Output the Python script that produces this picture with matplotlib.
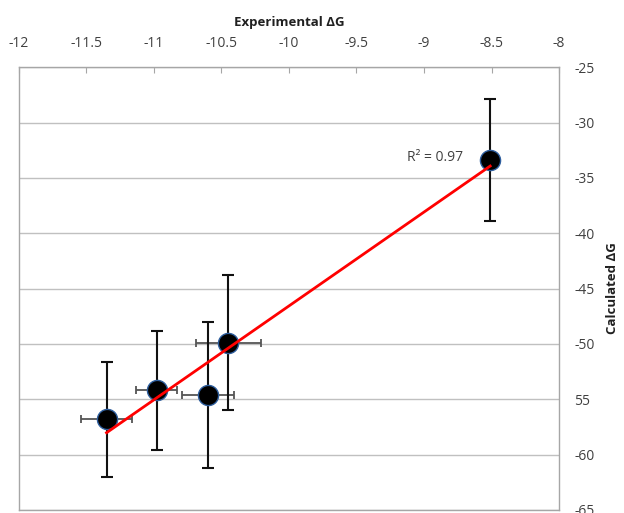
import matplotlib.pyplot as plt
import numpy as np

# data
exp_dg = [-11.35, -10.98, -10.60, -10.45, -8.51]
calc_dg = [-56.8, -54.2, -54.6, -49.9, -33.4]
exp_err = [0.19, 0.15, 0.19, 0.24, 0.0]
calc_err = [5.2, 5.4, 6.6, 6.1, 5.5]

x_ticks = [-12, -11.5, -11, -10.5, -10, -9.5, -9, -8.5, -8]
x_tick_labels = ['-12', '-11.5', '-11', '-10.5', '-10', '-9.5', '-9', '-8.5', '-8']
y_ticks = [-25, -30, -35, -40, -45, -50, -55, -60, -65]
y_tick_labels = ['-25', '-30', '-35', '-40', '-45', '-50', '55', '-60', '-65']
r2_label = 'R² = 0.97'

plt.rcParams['font.family'] = ['Open Sans', 'DejaVu Sans']

fig = plt.figure(figsize=(6.24, 5.13), dpi=100)
ax = fig.add_axes([0.030, 0.006, 0.866, 0.863])

# grid and frame
ax.set_xlim(-12, -8)
ax.set_ylim(-65, -25)
ax.yaxis.grid(True, color='#c0c0c0', linewidth=1)
ax.set_axisbelow(True)
for s in ax.spines.values():
    s.set_color('#a6a6a6')
    s.set_linewidth(1)

ax.xaxis.tick_top()
ax.xaxis.set_label_position('top')
ax.yaxis.tick_right()
ax.yaxis.set_label_position('right')
ax.set_xticks(x_ticks)
ax.set_xticklabels(x_tick_labels)
ax.set_yticks(y_ticks)
ax.set_yticklabels(y_tick_labels)
ax.tick_params(axis='x', direction='in', length=4, color='#a6a6a6', pad=12,
               labelsize=10, labelcolor='#404040')
ax.tick_params(axis='y', length=0, pad=11, labelsize=10, labelcolor='#404040')

ax.set_xlabel('Experimental ΔG', fontsize=9.5, fontweight='bold', labelpad=7, color='#202020')
ax.set_ylabel('Calculated ΔG', fontsize=9.5, fontweight='bold', labelpad=8, color='#202020')

# error bars
ax.errorbar(exp_dg, calc_dg, xerr=exp_err, fmt='none', ecolor='#555555',
            elinewidth=1.3, capsize=3, capthick=1.3, zorder=2)
ax.errorbar(exp_dg, calc_dg, yerr=calc_err, fmt='none', ecolor='#111111',
            elinewidth=1.5, capsize=4, capthick=1.5, zorder=2)

# linear fit
slope, inter = np.polyfit(exp_dg, calc_dg, 1)
fx = np.array([min(exp_dg), max(exp_dg)])
ax.plot(fx, slope * fx + inter, color='#ff0000', linewidth=2, zorder=4)

ax.plot(exp_dg, calc_dg, 'o', color='black', markersize=14.5,
        markeredgecolor='#2e5e9e', markeredgewidth=1, zorder=3)

ax.text(-8.71, -33.2, r2_label, ha='right', va='center', fontsize=10, color='#404040')

fig.savefig('out.png', dpi=100)
